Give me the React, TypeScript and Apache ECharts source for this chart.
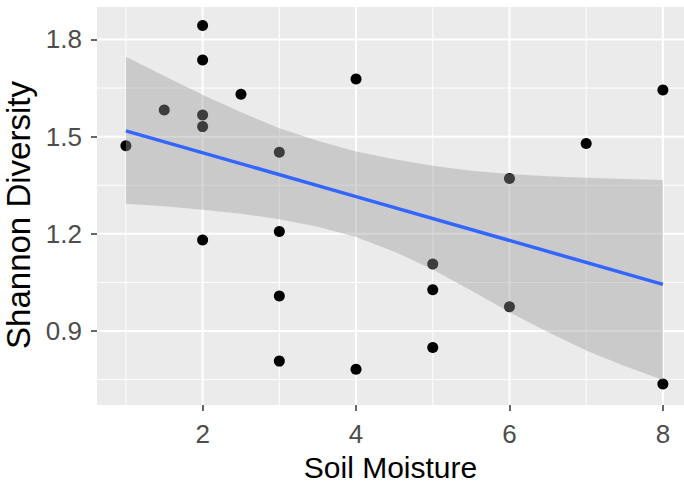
import React, { useEffect, useRef } from "react";
import * as echarts from "echarts";

const soilMoisture = [1, 1.5, 2, 2, 2, 2, 2, 2.5, 3, 3, 3, 3, 4, 4, 5, 5, 5, 6, 6, 7, 8, 8];
const shannonDiversity = [
  1.472, 1.582, 1.843, 1.737, 1.567, 1.531, 1.181, 1.631, 1.452, 1.207, 1.008,
  0.807, 1.678, 0.782, 1.107, 1.027, 0.849, 1.371, 0.975, 1.479, 1.644, 0.736,
];

// Fitted line and confidence band
const fitX = [1, 4, 8];
const fitY = [1.518, 1.315, 1.044];
const bandX = [1, 1.5, 2, 2.5, 3, 3.5, 4, 4.5, 5, 5.5, 6, 6.5, 7, 7.5, 8];
const bandUpper = [
  1.747, 1.687, 1.629, 1.575, 1.526, 1.487, 1.454, 1.43, 1.41, 1.395, 1.385,
  1.378, 1.373, 1.369, 1.366,
];
const bandLower = [
  1.293, 1.285, 1.274, 1.262, 1.245, 1.222, 1.19, 1.145, 1.09, 1.025, 0.958,
  0.897, 0.84, 0.792, 0.749,
];

// Axis breaks
const xTicks = [2, 4, 6, 8];
const xMinor = [1, 3, 5, 7];
const yTicks = [0.9, 1.2, 1.5, 1.8];
const yMinor = [0.75, 1.05, 1.35, 1.65];

const X_MIN = 0.6233;
const X_MAX = 8.275;
const Y_MIN = 0.6715;
const Y_MAX = 1.9003;

const FONT = "Liberation Sans, Arial, sans-serif";

export default function App() {
  const ref = useRef<HTMLDivElement>(null);

  useEffect(() => {
    if (!ref.current) return;
    const chart = echarts.init(ref.current, undefined, { renderer: "svg" });

    const points = soilMoisture.map((x, i) => [x, shannonDiversity[i]]);
    const fit = fitX.map((x, i) => [x, fitY[i]]);

    const option: any = {
      animation: false,
      backgroundColor: "#ffffff",
      textStyle: { fontFamily: FONT },
      grid: {
        left: 97,
        top: 7,
        right: 0,
        bottom: 85,
        containLabel: false,
        outerBoundsMode: "none",
        show: true,
        backgroundColor: "#EBEBEB",
        borderWidth: 0,
      },
      xAxis: {
        type: "value",
        min: X_MIN,
        max: X_MAX,
        axisLine: { show: false },
        splitLine: { show: false },
        axisTick: {
          show: true,
          customValues: xTicks,
          length: 6,
          lineStyle: { color: "#333333", width: 1.5 },
        },
        axisLabel: {
          customValues: xTicks,
          color: "#4D4D4D",
          fontSize: 26,
          fontFamily: FONT,
          margin: 16,
        },
        name: "Soil Moisture",
        nameLocation: "middle",
        nameGap: 47,
        nameTextStyle: { color: "#000000", fontSize: 30, fontFamily: FONT },
      },
      yAxis: {
        type: "value",
        min: Y_MIN,
        max: Y_MAX,
        axisLine: { show: false },
        splitLine: { show: false },
        axisTick: {
          show: true,
          customValues: yTicks,
          length: 6,
          lineStyle: { color: "#333333", width: 1.5 },
        },
        axisLabel: {
          customValues: yTicks,
          color: "#4D4D4D",
          fontSize: 26,
          fontFamily: FONT,
          margin: 15,
          formatter: (v: number) => v.toFixed(1),
        },
        name: "Shannon Diversity",
        nameLocation: "middle",
        nameGap: 56,
        nameTextStyle: {
          color: "#000000",
          fontSize: 33,
          fontFamily: FONT,
          padding: [0, 18, 0, 0],
        },
      },
      series: [
        {
          type: "custom",
          name: "grid",
          z: 1,
          silent: true,
          clip: false,
          data: [[X_MIN, Y_MIN]],
          renderItem: (params: any, api: any) => {
            const cs = params.coordSys;
            const children: any[] = [];
            const vLine = (v: number, w: number) => {
              const px = api.coord([v, Y_MIN])[0];
              children.push({
                type: "line",
                shape: { x1: px, y1: cs.y, x2: px, y2: cs.y + cs.height },
                style: { stroke: "#FFFFFF", lineWidth: w },
              });
            };
            const hLine = (v: number, w: number) => {
              const py = api.coord([X_MIN, v])[1];
              children.push({
                type: "line",
                shape: { x1: cs.x, y1: py, x2: cs.x + cs.width, y2: py },
                style: { stroke: "#FFFFFF", lineWidth: w },
              });
            };
            xMinor.forEach((v) => vLine(v, 1));
            yMinor.forEach((v) => hLine(v, 1));
            xTicks.forEach((v) => vLine(v, 2));
            yTicks.forEach((v) => hLine(v, 2));
            return { type: "group", children };
          },
        },
        {
          type: "scatter",
          name: "points",
          z: 2,
          data: points,
          symbol: "circle",
          symbolSize: 11,
          itemStyle: { color: "#000000", opacity: 1 },
        },
        {
          type: "custom",
          name: "band",
          z: 3,
          silent: true,
          clip: false,
          data: [[bandX[0], bandLower[0]]],
          renderItem: (params: any, api: any) => {
            const pts: number[][] = [];
            bandX.forEach((x, i) => pts.push(api.coord([x, bandUpper[i]])));
            for (let i = bandX.length - 1; i >= 0; i--) {
              pts.push(api.coord([bandX[i], bandLower[i]]));
            }
            return {
              type: "polygon",
              shape: { points: pts },
              style: { fill: "rgba(153,153,153,0.4)" },
            };
          },
        },
        {
          type: "line",
          name: "fit",
          z: 4,
          data: fit,
          showSymbol: false,
          symbol: "none",
          lineStyle: { color: "#3366FF", width: 3.5 },
        },
      ],
    };

    chart.setOption(option);
    return () => chart.dispose();
  }, []);

  return (
    <div
      ref={ref}
      style={{ position: "absolute", left: 0, top: 0, width: 684, height: 490 }}
    />
  );
}
